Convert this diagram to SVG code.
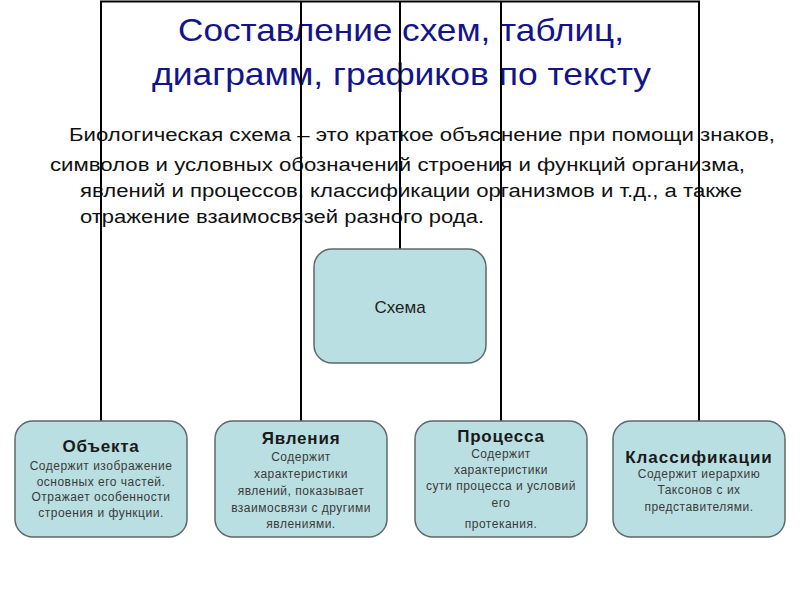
<svg xmlns="http://www.w3.org/2000/svg" width="800" height="600" viewBox="0 0 800 600">
<style>
.title{font-family:"Liberation Sans",Arial,sans-serif;font-size:32px;fill:#13138a}
.para{font-family:"Liberation Sans",Arial,sans-serif;font-size:18px;fill:#111}
.box{fill:#badfe2;stroke:#5e6868;stroke-width:1.5}
.conn{stroke:#000;stroke-width:2;fill:none}
.h{font-family:"Liberation Sans",Arial,sans-serif;font-weight:bold;font-size:17px;fill:#1a1a1a;text-anchor:middle;letter-spacing:0.8px}
.b{font-family:"Liberation Sans",Arial,sans-serif;font-size:12px;fill:#3a3a3a;text-anchor:middle;letter-spacing:0.5px}
.c{font-family:"Liberation Sans",Arial,sans-serif;font-size:17px;fill:#222;text-anchor:middle}
</style>
<rect width="800" height="600" fill="#fff"/>
<g id="title">
<text class="title" x="178" y="41" textLength="446" lengthAdjust="spacingAndGlyphs">Составление схем, таблиц,</text>
<text class="title" x="152" y="85" textLength="499" lengthAdjust="spacingAndGlyphs">диаграмм, графиков по тексту</text>
</g>
<g id="paragraph">
<text class="para" x="69" y="141" textLength="706" lengthAdjust="spacingAndGlyphs">Биологическая схема – это краткое объяснение при помощи знаков,</text>
<text class="para" x="50" y="171" textLength="695" lengthAdjust="spacingAndGlyphs">символов и условных обозначений строения и функций организма,</text>
<text class="para" x="80" y="197" textLength="662" lengthAdjust="spacingAndGlyphs">явлений и процессов, классификации организмов и т.д., а также</text>
<text class="para" x="80" y="223" textLength="404" lengthAdjust="spacingAndGlyphs">отражение взаимосвязей разного рода.</text>
</g>
<g id="connectors">
<path class="conn" d="M101,421 V1.5 H699 V421"/>
<path class="conn" d="M301,1.5 V421"/>
<path class="conn" d="M501,1.5 V421"/>
<path class="conn" d="M400,1.5 V249"/>
</g>
<g id="schema">
<rect class="box" x="314" y="249" width="172" height="114" rx="18"/>
<text class="c" x="400" y="313">Схема</text>
</g>
<g id="obj">
<rect class="box" x="15" y="421" width="172" height="116" rx="18"/>
<text class="h" x="101" y="452">Объекта</text>
<text class="b" x="101" y="470">Содержит изображение</text>
<text class="b" x="101" y="486">основных его частей.</text>
<text class="b" x="101" y="501">Отражает особенности</text>
<text class="b" x="101" y="517">строения и функции.</text>
</g>
<g id="yavl">
<rect class="box" x="215" y="421" width="172" height="116" rx="18"/>
<text class="h" x="301" y="444">Явления</text>
<text class="b" x="301" y="461">Содержит</text>
<text class="b" x="301" y="478">характеристики</text>
<text class="b" x="301" y="495">явлений, показывает</text>
<text class="b" x="301" y="512">взаимосвязи с другими</text>
<text class="b" x="301" y="528">явлениями.</text>
</g>
<g id="proc">
<rect class="box" x="415" y="421" width="172" height="116" rx="18"/>
<text class="h" x="501" y="442">Процесса</text>
<text class="b" x="501" y="458">Содержит</text>
<text class="b" x="501" y="474">характеристики</text>
<text class="b" x="501" y="490">сути процесса и условий</text>
<text class="b" x="501" y="507">его</text>
<text class="b" x="501" y="528">протекания.</text>
</g>
<g id="klass">
<rect class="box" x="613" y="421" width="172" height="116" rx="18"/>
<text class="h" x="699" y="463" style="letter-spacing:1px">Классификации</text>
<text class="b" x="699" y="478">Содержит иерархию</text>
<text class="b" x="699" y="494">Таксонов  с их</text>
<text class="b" x="699" y="511">представителями.</text>
</g>
</svg>
